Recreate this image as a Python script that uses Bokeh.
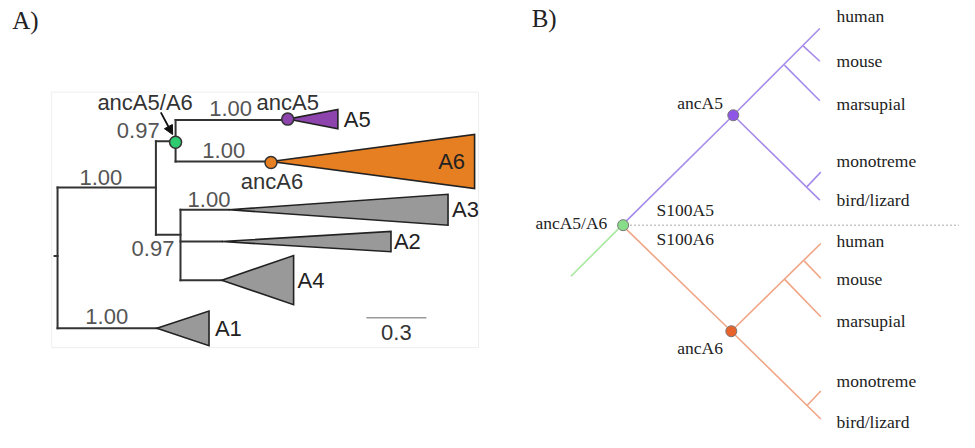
from bokeh.plotting import figure
from bokeh.models import Range1d, Arrow, NormalHead
from bokeh.core.properties import value
from bokeh.embed import file_html
from bokeh.resources import INLINE

# ---------------- Panel A: collapsed S100 tree (layout coordinates) ----------------
A_branch_x0 = [55, 58, 58, 58, 158, 158, 158, 178, 178, 178, 183, 183, 183, 183]
A_branch_y0 = [265, 194, 194, 340, 146, 146, 243, 124, 124, 167, 217, 217, 250, 290]
A_branch_x1 = [58, 58, 158, 159, 158, 178, 183, 178, 292, 275, 183, 232, 225, 225]
A_branch_y1 = [265, 340, 194, 340, 243, 146, 243, 167, 124, 167, 290, 217, 250, 290]

A_clades = ["A1", "A2", "A3", "A4", "A5", "A6"]
A_clade_apex_x = [159, 225, 232, 225, 292, 275]
A_clade_y = [340, 250, 217, 290, 123, 167]
A_clade_tip_x = [212, 397, 455, 298, 343, 482]
A_clade_half = [18, 10.5, 16, 25.5, 10, 28]
A_clade_color = ["#999999", "#999999", "#999999", "#999999", "#8e44ad", "#e67e22"]
A_clade_label_x = [218, 400, 459, 302, 349, 445]

A_node_names = ["ancA5/A6", "ancA5", "ancA6"]
A_node_x = [178, 292, 275]
A_node_y = [147, 123, 168]
A_node_color = ["#2ecc71", "#8e44ad", "#e67e22"]

A_support_text = ["1.00", "1.00", "0.97", "1.00", "1.00", "1.00", "0.97"]
A_support_x = [102, 108, 140, 234, 227, 212, 155]
A_support_y = [184, 328, 135, 112, 156, 206, 257]

A_anc_label_x = [147, 292, 276]
A_anc_label_y = [106, 106, 188]

A_scale_x = [372, 433]
A_scale_y = 329
A_scale_text = "0.3"

# ---------------- Panel B: species tree of the duplication ----------------
B_edge_x0 = [632, 632, 745, 816, 797, 745, 820, 632, 743, 817, 797, 743, 820]
B_edge_y0 = [233, 233, 119, 47, 67, 119, 193, 233, 343, 270, 289, 343, 420]
B_edge_x1 = [580, 745, 833, 833, 833, 833, 834, 743, 834, 834, 834, 834, 834]
B_edge_y1 = [286, 119, 29, 63, 104, 207, 178, 343, 252, 288, 328, 434, 405]
B_edge_color = ["#a8e8a0"] + ["#a58bea"] * 6 + ["#f0a585"] * 6

B_node_x = [633, 745, 743]
B_node_y = [233, 119, 343]
B_node_color = ["#88dd88", "#8f55e6", "#e8622c"]

B_species = ["human", "mouse", "marsupial", "monotreme", "bird/lizard",
             "human", "mouse", "marsupial", "monotreme", "bird/lizard"]
B_species_y = [16, 63, 107, 166, 207, 249, 289, 332, 395, 437]
B_species_x = 850

B_misc_text = ["ancA5", "S100A5", "S100A6", "ancA6"]
B_misc_x = [688, 667, 667, 688]
B_misc_y = [106, 217, 247, 360]

p = figure(width=959, height=432, output_backend="svg", toolbar_location=None,
           x_range=Range1d(0, 975), y_range=Range1d(448, 0),
           x_axis_location=None, y_axis_location=None, min_border=0)
p.grid.visible = False
p.outline_line_color = None
p.background_fill_color = "white"
p.border_fill_color = "white"

sans = value("Liberation Sans")
serif = value("Liberation Serif")

# panel labels
p.text(x=[12], y=[21], text=["A)"], text_font=serif, text_font_size=value("25px"),
       text_baseline="middle", text_color="#222222")
p.text(x=[540], y=[19], text=["B)"], text_font=serif, text_font_size=value("25px"),
       text_baseline="middle", text_color="#222222")

# ----- Panel A -----
p.quad(left=[52], right=[486], top=[95], bottom=[360], fill_alpha=0,
       line_color="#eeeeee", line_width=1)

p.segment(A_branch_x0, A_branch_y0, A_branch_x1, A_branch_y1,
          line_color="#333333", line_width=2, line_cap="square")

xs, ys = [], []
for ax, cy, tx, h in zip(A_clade_apex_x, A_clade_y, A_clade_tip_x, A_clade_half):
    xs.append([ax, tx, tx])
    ys.append([cy, cy - h, cy + h])
p.patches(xs, ys, fill_color=A_clade_color, line_color="#222222", line_width=1.6,
          line_join="miter")

p.scatter(A_node_x, A_node_y, size=12, marker="circle", fill_color=A_node_color,
          line_color="#333333", line_width=1.5)

p.add_layout(Arrow(end=NormalHead(size=9, fill_color="#111111", line_color="#111111"),
                   x_start=163, y_start=116, x_end=175, y_end=139,
                   line_color="#111111", line_width=1.8))

p.text(x=A_support_x, y=A_support_y, text=A_support_text, text_font=sans,
       text_font_size=value("22px"), text_align="center", text_baseline="middle",
       text_color="#555555")
p.text(x=A_anc_label_x, y=A_anc_label_y, text=A_node_names, text_font=sans,
       text_font_size=value("22px"), text_align="center", text_baseline="middle",
       text_color="#333333")
p.text(x=A_clade_label_x, y=A_clade_y, text=A_clades, text_font=sans,
       text_font_size=value("22px"), text_align="left", text_baseline="middle",
       text_color="#222222")

p.line(A_scale_x, [A_scale_y, A_scale_y], line_color="#999999", line_width=1.5)
p.text(x=[sum(A_scale_x) / 2], y=[A_scale_y + 15], text=[A_scale_text], text_font=sans,
       text_font_size=value("22px"), text_align="center", text_baseline="middle",
       text_color="#333333")

# ----- Panel B -----
p.line([640, 975], [233, 233], line_color="#aaaaaa", line_width=1, line_dash="2 2")
p.segment(B_edge_x0, B_edge_y0, B_edge_x1, B_edge_y1, line_color=B_edge_color,
          line_width=1.6)
p.scatter(B_node_x, B_node_y, size=11, marker="circle", fill_color=B_node_color,
          line_color="#777777", line_width=1)

p.text(x=[B_species_x] * len(B_species), y=B_species_y, text=B_species, text_font=serif,
       text_font_size=value("17.5px"), text_baseline="middle", text_color="#222222")
p.text(x=B_misc_x, y=B_misc_y, text=B_misc_text, text_font=serif,
       text_font_size=value("17.5px"), text_baseline="middle", text_color="#222222")
p.text(x=[617], y=[231], text=["ancA5/A6"], text_font=serif, text_align="right",
       text_font_size=value("17.5px"), text_baseline="middle", text_color="#222222")

open("out.html", "w").write(file_html(p, INLINE))
